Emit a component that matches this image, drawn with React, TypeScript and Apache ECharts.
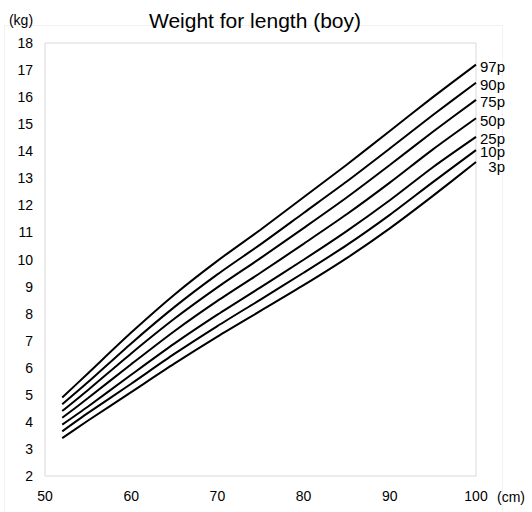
import React, { useEffect, useRef } from "react";
import * as echarts from "echarts";

// Length (cm)
const lengths = [52, 55, 60, 65, 70, 75, 80, 85, 90, 95, 100];

// Weight (kg) by percentile
const p3 = [3.4, 4.05, 5.1, 6.15, 7.15, 8.1, 9.05, 10.05, 11.15, 12.35, 13.6];
const p10 = [3.65, 4.33, 5.41, 6.51, 7.54, 8.52, 9.51, 10.53, 11.65, 12.86, 14.04];
const p25 = [3.9, 4.57, 5.74, 6.89, 7.96, 8.97, 9.99, 11.05, 12.19, 13.41, 14.53];
const p50 = [4.15, 4.88, 6.13, 7.35, 8.47, 9.51, 10.58, 11.67, 12.84, 14.07, 15.22];
const p75 = [4.4, 5.18, 6.53, 7.81, 8.97, 10.05, 11.16, 12.29, 13.49, 14.72, 15.9];
const p90 = [4.65, 5.47, 6.9, 8.24, 9.45, 10.56, 11.72, 12.88, 14.1, 15.34, 16.53];
const p97 = [4.9, 5.8, 7.3, 8.7, 9.95, 11.1, 12.3, 13.5, 14.75, 16.0, 17.2];

const seriesNames = ["3p", "10p", "25p", "50p", "75p", "90p", "97p"];
const seriesValues = [p3, p10, p25, p50, p75, p90, p97];

const title = "Weight for length (boy)";
const yUnit = "(kg)";
const xUnit = "(cm)";

const FONT = "'Liberation Sans', Arial, sans-serif";

export default function App() {
  const ref = useRef<HTMLDivElement>(null);

  useEffect(() => {
    if (!ref.current) return;
    const chart = echarts.init(ref.current, null, { renderer: "svg" });
    const labelDy = [4, 1, 2, 2, 2, 2, 2];
    const series = seriesNames.map((name, si) => ({
      name,
      type: "line",
      data: lengths.map((x, i) => [x, seriesValues[si][i]]),
      showSymbol: false,
      symbol: "none",
      smooth: 0.25,
      lineStyle: { color: "#000", width: 2 },
      endLabel: {
        show: true,
        formatter: name,
        align: "right",
        distance: 29,
        offset: [0, labelDy[si]],
        color: "#000",
        fontSize: 15,
        lineHeight: 12,
        fontFamily: FONT,
      },
      emphasis: { disabled: true },
    }));

    chart.setOption({
      animation: false,
      textStyle: { fontFamily: FONT },
      grid: {
        left: 45,
        right: 56,
        top: 43,
        bottom: 36,
        show: true,
        borderColor: "#d9d9d9",
        borderWidth: 1,
        backgroundColor: "transparent",
      },
      xAxis: {
        type: "value",
        min: 50,
        max: 100,
        interval: 10,
        axisLine: { show: false },
        axisTick: { show: false },
        splitLine: { show: false },
        axisLabel: { color: "#000", fontSize: 14, margin: 13, fontFamily: FONT },
      },
      yAxis: {
        type: "value",
        min: 2,
        max: 18,
        interval: 1,
        axisLine: { show: false },
        axisTick: { show: false },
        splitLine: { show: false },
        axisLabel: { color: "#000", fontSize: 14, margin: 12, fontFamily: FONT },
      },
      graphic: [
        {
          type: "rect",
          shape: { x: 4.5, y: 25.5, width: 498, height: 500 },
          style: { fill: "none", stroke: "#f2f2f2", lineWidth: 1 },
          silent: true,
          z: -10,
        },
        {
          type: "text",
          x: 255,
          y: 20,
          style: {
            text: title,
            font: `21px ${FONT}`,
            fill: "#000",
            textAlign: "center",
            textVerticalAlign: "middle",
          },
        },
        {
          type: "text",
          x: 21,
          y: 20,
          style: {
            text: yUnit,
            font: `14px ${FONT}`,
            fill: "#000",
            textAlign: "center",
            textVerticalAlign: "middle",
          },
        },
        {
          type: "text",
          x: 497,
          y: 497,
          style: {
            text: xUnit,
            font: `14px ${FONT}`,
            fill: "#000",
            textAlign: "left",
            textVerticalAlign: "middle",
          },
        },
      ],
      series,
    });
    return () => chart.dispose();
  }, []);

  return (
    <div
      ref={ref}
      style={{ position: "fixed", left: 0, top: 0, width: 532, height: 512, background: "#fff" }}
    />
  );
}
